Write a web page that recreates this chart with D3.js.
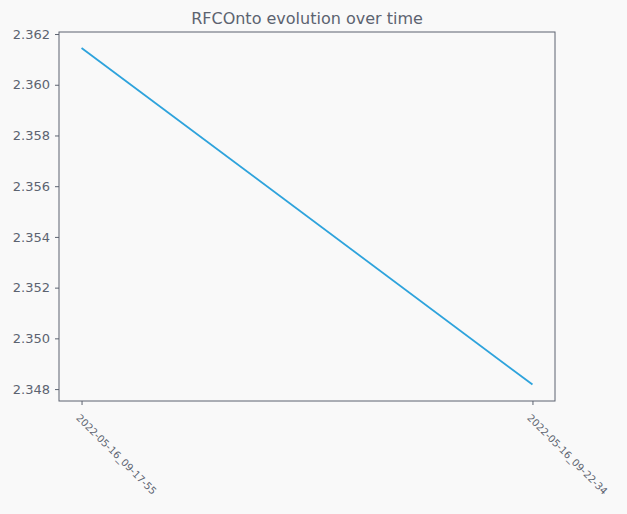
<!DOCTYPE html>
<html><head><meta charset="utf-8">
<script src="https://cdn.jsdelivr.net/npm/d3@7"></script>
<style>body{margin:0;background:#f9f9f9}text{font-family:"DejaVu Sans",sans-serif}</style>
</head><body><svg id="c" width="627" height="514"></svg>
<script>
var dates = ['2022-05-16_09-17-55', '2022-05-16_09-22-34'];
var values = [2.36145, 2.34818];
var yTicks = [2.348, 2.350, 2.352, 2.354, 2.356, 2.358, 2.360, 2.362];

(function(){
var svg = d3.select('#c');
var mLeft = 59, mRight = 555, mTop = 32, mBottom = 401;
var ink = '#5c6370';
svg.append('rect').attr('width', 627).attr('height', 514).attr('fill', '#f9f9f9');

var x = d3.scaleLinear().domain([-0.05, 1.05]).range([mLeft, mRight]);
var y = d3.scaleLinear().domain([2.34753, 2.36208]).range([mBottom, mTop]);

var yAxis = svg.append('g').attr('transform', 'translate(' + mLeft + ',0)')
  .call(d3.axisLeft(y).tickValues(yTicks).tickFormat(d3.format('.3f')).tickSize(4).tickPadding(5));
var xAxis = svg.append('g').attr('transform', 'translate(0,' + mBottom + ')')
  .call(d3.axisBottom(x).tickValues([0, 1]).tickFormat(function(d){ return dates[d]; }).tickSize(4));
[yAxis, xAxis].forEach(function(a){
  a.select('.domain').remove();
  a.selectAll('line').attr('stroke', ink);
  a.selectAll('text').attr('fill', ink);
});
yAxis.selectAll('text').style('font-size', '13px');
xAxis.selectAll('text').style('font-size', '10px')
  .attr('text-anchor', 'start').attr('dy', '0.35em')
  .attr('transform', 'translate(-4,15) rotate(45)').attr('y', 0).attr('x', 0);

svg.append('rect').attr('x', mLeft).attr('y', mTop).attr('width', mRight - mLeft).attr('height', mBottom - mTop)
  .attr('fill', 'none').attr('stroke', ink).attr('stroke-width', 1);

svg.append('path').datum(values)
  .attr('d', d3.line().x(function(d, i){ return x(i); }).y(function(d){ return y(d); }))
  .attr('fill', 'none').attr('stroke', '#2ea3dc').attr('stroke-width', 1.8);

svg.append('text').attr('x', (mLeft + mRight) / 2).attr('y', 24).attr('text-anchor', 'middle')
  .attr('fill', ink).style('font-size', '16px').text('RFCOnto evolution over time');
})();
</script></body></html>
